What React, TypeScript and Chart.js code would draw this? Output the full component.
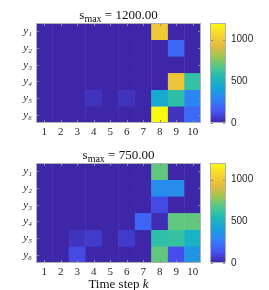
import React, { useEffect, useRef } from 'react';
import { Chart, registerables } from 'chart.js';
Chart.register(...registerables);

const timeSteps = ['1', '2', '3', '4', '5', '6', '7', '8', '9', '10'];
const rowLabels = ['y\u2081', 'y\u2082', 'y\u2083', 'y\u2084', 'y\u2085', 'y\u2086'];
const colorbarTicks = [0, 500, 1000];
const colorMax = 1200;

// rows y1..y6, columns k = 1..10
const topValues: number[][] = [
  [0, 0, 0, 0, 0, 0, 0, 1000, 0, 0],
  [0, 0, 0, 0, 0, 0, 0, 0, 200, 0],
  [0, 0, 0, 0, 0, 0, 0, 0, 0, 0],
  [0, 0, 0, 0, 0, 0, 0, 0, 980, 600],
  [0, 0, 0, 40, 0, 40, 0, 450, 590, 300],
  [0, 0, 0, 0, 0, 0, 0, 1200, 40, 210],
];
const bottomValues: number[][] = [
  [0, 0, 0, 0, 0, 0, 0, 700, 0, 0],
  [0, 0, 0, 0, 0, 0, 0, 320, 330, 0],
  [0, 0, 0, 0, 0, 0, 0, 110, 0, 0],
  [0, 0, 0, 0, 0, 0, 190, 20, 700, 700],
  [0, 0, 40, 60, 0, 60, 0, 590, 610, 500],
  [0, 0, 110, 0, 0, 0, 0, 700, 120, 360],
];

// MATLAB parula, sampled at 10 evenly spaced points
const parulaStops: number[][] = [
  [0.2422, 0.1504, 0.6603],
  [0.276, 0.3205, 0.9483],
  [0.2057, 0.489, 0.9797],
  [0.088, 0.6264, 0.868],
  [0.1006, 0.7189, 0.7339],
  [0.3, 0.7835, 0.5567],
  [0.6271, 0.7771, 0.3196],
  [0.9008, 0.7358, 0.2419],
  [0.9772, 0.8408, 0.1836],
  [0.9763, 0.9831, 0.0538],
];

function rgb(c: number[]): string {
  return `rgb(${Math.round(c[0] * 255)},${Math.round(c[1] * 255)},${Math.round(c[2] * 255)})`;
}
function parula(t: number): string {
  const c = Math.max(0, Math.min(1, t)) * (parulaStops.length - 1);
  const i = Math.min(parulaStops.length - 2, Math.floor(c));
  const f = c - i;
  const a = parulaStops[i];
  const b = parulaStops[i + 1];
  return rgb(a.map((v, j) => v + (b[j] - v) * f));
}

const boxPlugin = {
  id: 'box',
  afterDraw(chart: any) {
    const { ctx, chartArea: a } = chart;
    ctx.save();
    ctx.strokeStyle = '#b0b0b0';
    ctx.lineWidth = 1;
    ctx.strokeRect(Math.round(a.left) + 0.5, Math.round(a.top) + 0.5, Math.round(a.right - a.left) - 1, Math.round(a.bottom - a.top) - 1);
    ctx.strokeStyle = '#8a8a8a';
    const xs = chart.scales.x;
    if (xs && xs.options.display !== false) {
      xs.ticks.forEach((_: any, i: number) => {
        const x = Math.round(xs.getPixelForTick(i)) + 0.5;
        ctx.beginPath();
        ctx.moveTo(x, a.bottom - 1);
        ctx.lineTo(x, a.bottom - 3);
        ctx.moveTo(x, a.top + 1);
        ctx.lineTo(x, a.top + 3);
        ctx.stroke();
      });
    }
    const ys = chart.scales.y;
    ys.ticks.forEach((t: any) => {
      const y = Math.round(ys.getPixelForValue(t.value)) + 0.5;
      ctx.beginPath();
      ctx.moveTo(a.left + 1, y);
      ctx.lineTo(a.left + 3, y);
      ctx.moveTo(a.right - 1, y);
      ctx.lineTo(a.right - 3, y);
      ctx.stroke();
    });
    ctx.restore();
  },
};

function Heatmap({ values }: { values: number[][] }) {
  const ref = useRef<HTMLCanvasElement>(null);
  useEffect(() => {
    const datasets = values.map((row, r) => {
      const colors = row.map((v) => parula(v / colorMax));
      return {
        data: row.map(() => [r + 0.5, r + 1.5]),
        backgroundColor: colors,
        borderColor: colors,
        borderWidth: 0.6,
        borderSkipped: false,
        grouped: false,
        barPercentage: 1,
        categoryPercentage: 1,
      };
    });
    const chart = new Chart(ref.current!, {
      type: 'bar',
      data: { labels: timeSteps, datasets: datasets as any },
      options: {
        animation: false,
        responsive: false,
        layout: { padding: { top: 23, right: 4, left: 0, bottom: 0 } },
        plugins: { legend: { display: false }, tooltip: { enabled: false } },
        scales: {
          x: {
            type: 'category',
            grid: { display: false, drawTicks: false },
            border: { display: false },
            ticks: { color: '#262626', font: { family: 'Liberation Serif', size: 11 }, padding: 3, maxRotation: 0, autoSkip: false },
            afterFit: (s: any) => { s.height = 17; },
          },
          y: {
            type: 'linear',
            min: 0.5,
            max: 6.5,
            reverse: true,
            afterBuildTicks: (s: any) => { s.ticks = rowLabels.map((_, i) => ({ value: i + 1 })); },
            grid: { display: false, drawTicks: false },
            border: { display: false },
            ticks: {
              color: '#262626',
              font: { family: 'Liberation Serif', size: 11, style: 'italic' },
              padding: 4,
              callback: (v: any) => rowLabels[Math.round(v) - 1],
            },
            afterFit: (s: any) => { s.width = 36; },
          },
        },
      } as any,
      plugins: [boxPlugin],
    });
    return () => chart.destroy();
  }, [values]);
  return <canvas ref={ref} width={205} height={140} style={{ position: 'absolute', left: 0, top: 0, width: 205, height: 140 }} />;
}

function Colorbar() {
  const ref = useRef<HTMLCanvasElement>(null);
  useEffect(() => {
    const chart = new Chart(ref.current!, {
      type: 'bar',
      data: {
        labels: [''],
        datasets: [
          {
            data: [[0, colorMax]],
            backgroundColor: (c: any) => {
              const a = c.chart.chartArea;
              if (!a) return rgb(parulaStops[0]);
              const g = c.chart.ctx.createLinearGradient(0, a.bottom, 0, a.top);
              parulaStops.forEach((s, i) => g.addColorStop(i / (parulaStops.length - 1), rgb(s)));
              return g;
            },
            borderWidth: 0,
            barPercentage: 1,
            categoryPercentage: 1,
          },
        ] as any,
      },
      options: {
        animation: false,
        responsive: false,
        layout: { padding: { top: 23, left: 5, right: 0, bottom: 17 } },
        plugins: { legend: { display: false }, tooltip: { enabled: false } },
        scales: {
          x: { display: false },
          y: {
            position: 'right',
            min: 0,
            max: colorMax,
            afterBuildTicks: (s: any) => { s.ticks = colorbarTicks.map((v) => ({ value: v })); },
            grid: { display: false, drawTicks: false },
            border: { display: false },
            ticks: { color: '#262626', font: { family: 'Liberation Sans', size: 10 }, padding: 5, callback: (v: any) => String(v) },
            afterFit: (s: any) => { s.width = 43; },
          },
        },
      } as any,
      plugins: [boxPlugin],
    });
    return () => chart.destroy();
  }, []);
  return <canvas ref={ref} width={64} height={140} style={{ position: 'absolute', left: 205, top: 0, width: 64, height: 140 }} />;
}

const titleStyle: React.CSSProperties = {
  position: 'absolute',
  left: 36,
  width: 165,
  textAlign: 'center',
  fontFamily: 'Liberation Serif',
  fontSize: 13,
  color: '#111',
  lineHeight: '16px',
  whiteSpace: 'nowrap',
};

function Panel({ values, title, top }: { values: number[][]; title: string; top: number }) {
  return (
    <div style={{ position: 'absolute', left: 0, top, width: 269, height: 140 }}>
      <Heatmap values={values} />
      <Colorbar />
      <div style={{ ...titleStyle, top: 7 }}>
        s<sub style={{ fontSize: 10, verticalAlign: -3, lineHeight: 0 }}>max</sub> = {title}
      </div>
    </div>
  );
}

export default function App() {
  return (
    <div style={{ position: 'fixed', left: 0, top: 0, width: 269, height: 290, background: '#fff', overflow: 'hidden' }}>
      <Panel values={topValues} title="1200.00" top={0} />
      <Panel values={bottomValues} title="750.00" top={140} />
      <div style={{ ...titleStyle, top: 276 }}>
        Time step <i>k</i>
      </div>
    </div>
  );
}
